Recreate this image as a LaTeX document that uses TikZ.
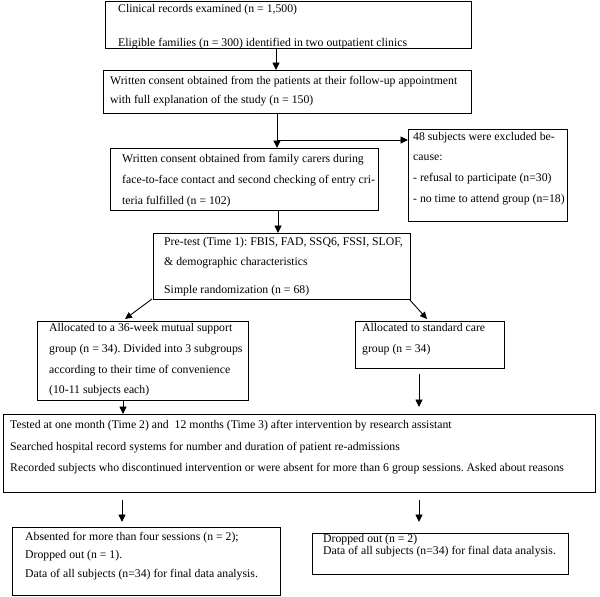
\documentclass[tikz,border=0pt]{standalone}
\usepackage{fontspec}
\setmainfont{Liberation Serif}
\usetikzlibrary{arrows.meta}
\frenchspacing
\begin{document}
\begin{tikzpicture}[x=1pt,y=-1pt,
  box/.style={draw, line width=0.9pt, anchor=north west, inner sep=0pt, outer sep=0pt},
  txt/.style={anchor=base west, inner sep=0pt, font=\fontsize{11.75}{14}\selectfont},
  arr/.style={line width=0.9pt, -{Triangle[width=7pt,length=7.5pt]}},
  darr/.style={line width=0.9pt, -{Triangle[width=6.5pt,length=7pt]}}]
\useasboundingbox (0,0) rectangle (600,597);
% boxes
\node[box, minimum width=366pt, minimum height=47pt] (b1) at (105,1) {};
\node[box, minimum width=368pt, minimum height=43pt] (b2) at (103,70) {};
\node[box, minimum width=268pt, minimum height=62pt] (b3) at (110,148) {};
\node[box, minimum width=159pt, minimum height=92pt] (b4) at (408,129.5) {};
\node[box, minimum width=257pt, minimum height=66pt] (b5) at (153,233) {};
\node[box, minimum width=211pt, minimum height=79pt] (b6) at (37,321) {};
\node[box, minimum width=149pt, minimum height=47pt] (b7) at (355,321) {};
\node[box, minimum width=592pt, minimum height=78pt] (b8) at (3,414) {};
\node[box, minimum width=268pt, minimum height=68pt] (b9) at (12,527) {};
\node[box, minimum width=256pt, minimum height=41pt] (b10) at (312,533) {};
% texts
\node[txt] (t1a) at (118,12.5) {Clinical records examined (n = 1,500)};
\node[txt] (t1b) at (118,46) {Eligible families (n = 300) identified in two outpatient clinics};
\node[txt] (t2a) at (110,84.5) {Written consent obtained from the patients at their follow-up appointment};
\node[txt] (t2b) at (110,103) {with full explanation of the study (n = 150)};
\node[txt] (t3a) at (122,162.5) {Written consent obtained from family carers during};
\node[txt] (t3b) at (122,183.5) {face-to-face contact and second checking of entry cri-};
\node[txt] (t3c) at (122,204) {teria fulfilled (n = 102)};
\node[txt] (t4a) at (413,140.5) {48 subjects were excluded be-};
\node[txt] (t4b) at (413,160.5) {cause:};
\node[txt] (t4c) at (413,181.5) {- refusal to participate (n=30)};
\node[txt] (t4d) at (413,202.5) {- no time to attend group (n=18)};
\node[txt] (t5a) at (164,245) {Pre-test (Time 1): FBIS, FAD, SSQ6, FSSI, SLOF,};
\node[txt] (t5b) at (164,265) {\& demographic characteristics};
\node[txt] (t5c) at (164,293.5) {Simple randomization (n = 68)};
\node[txt] (t6a) at (49,331.5) {Allocated to a 36-week mutual support};
\node[txt] (t6b) at (49,352.5) {group (n = 34). Divided into 3 subgroups};
\node[txt] (t6c) at (49,373) {according to their time of convenience};
\node[txt] (t6d) at (49,393) {(10-11 subjects each)};
\node[txt] (t7a) at (362,331.5) {Allocated to standard care};
\node[txt] (t7b) at (362,352.5) {group (n = 34)};
\node[txt] (t8a) at (10,428.5) {Tested at one month (Time 2) and\ \ 12 months (Time 3) after intervention by research assistant};
\node[txt] (t8b) at (10,450.5) {Searched hospital record systems for number and duration of patient re-admissions};
\node[txt] (t8c) at (10,471.5) {Recorded subjects who discontinued intervention or were absent for more than 6 group sessions. Asked about reasons};
\node[txt] (t9a) at (25,540) {Absented for more than four sessions (n = 2);};
\node[txt] (t9b) at (25,558.5) {Dropped out (n = 1).};
\node[txt] (t9c) at (25,577) {Data of all subjects (n=34) for final data analysis.};
\node[txt] (t10a) at (323,542.5) {Dropped out (n = 2)};
\node[txt] (t10b) at (323,554.5) {Data of all subjects (n=34) for final data analysis.};
% coordinates
\coordinate (xa) at (276,0);
\coordinate (xb) at (278,0);
\coordinate (br) at (277,140);
\coordinate (dl) at (125,319);
\coordinate (dr) at (427,319);
\coordinate (xl) at (123,0);
\coordinate (c7a) at (419,374);
\coordinate (c7b) at (419,407);
\coordinate (c9a) at (122,500);
\coordinate (c9b) at (122,522);
\coordinate (c10a) at (419,500);
\coordinate (c10b) at (419,522);
% connectors
\draw[arr] (b1.south -| xa) -- (b2.north -| xa);
\draw[arr] (b2.south -| br) -- (b3.north -| br);
\draw[arr] (br) -- (br -| b4.west);
\draw[arr] (b3.south -| xb) -- (b5.north -| xb);
\draw[darr] ([xshift=-1pt]b5.south west) -- (dl);
\draw[darr] ([xshift=-1pt]b5.south east) -- (dr);
\draw[arr] (b6.south -| xl) -- (b8.north -| xl);
\draw[arr] (c7a) -- (c7b);
\draw[arr] (c9a) -- (c9b);
\draw[arr] (c10a) -- (c10b);
\end{tikzpicture}
\end{document}
